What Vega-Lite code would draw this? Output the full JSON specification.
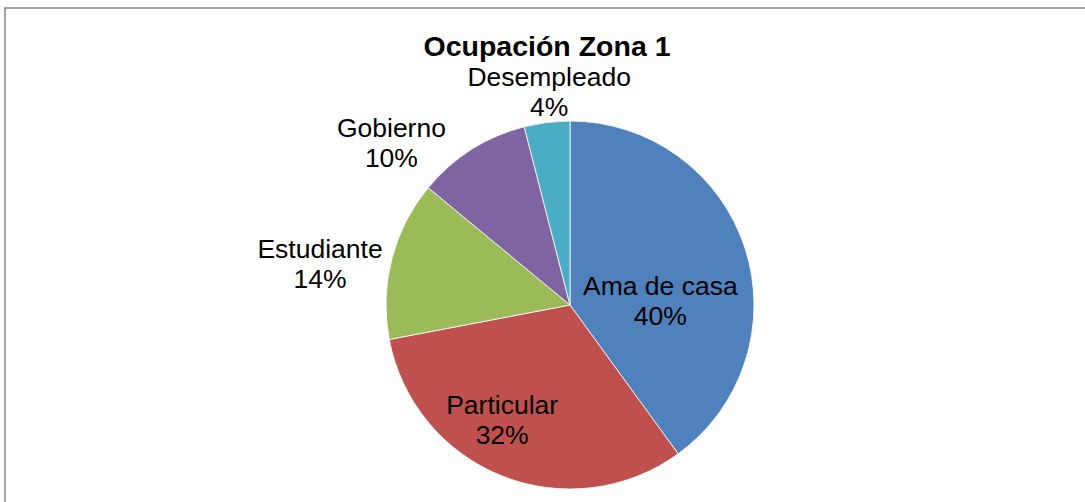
{
  "$schema": "https://vega.github.io/schema/vega-lite/v6.json",
  "autosize": {"type": "none"},
  "padding": {"left": 5, "top": 8, "right": 0, "bottom": 0},
  "width": 1130,
  "height": 594,
  "background": "white",
  "view": {"stroke": "#868686", "strokeWidth": 1.5, "fill": "white"},
  "config": {
    "view": {"stroke": "#868686", "strokeWidth": 1.5},
    "text": {"font": "Liberation Sans"}
  },
  "title": {
    "text": "Ocupación Zona 1",
    "font": "Liberation Sans",
    "fontSize": 28.5,
    "fontWeight": "bold",
    "color": "black",
    "anchor": "middle",
    "frame": "group",
    "offset": 0,
    "dx": -23,
    "dy": 53
  },
  "data": {
    "values": [
      {"ocupacion": "Ama de casa", "porcentaje": 40, "orden": 1},
      {"ocupacion": "Particular", "porcentaje": 32, "orden": 2},
      {"ocupacion": "Estudiante", "porcentaje": 14, "orden": 3},
      {"ocupacion": "Gobierno", "porcentaje": 10, "orden": 4},
      {"ocupacion": "Desempleado", "porcentaje": 4, "orden": 5}
    ]
  },
  "transform": [
    {"stack": "porcentaje", "groupby": [], "sort": [{"field": "orden", "order": "ascending"}], "as": ["p0", "p1"]},
    {"calculate": "(datum.p0 + datum.p1) / 2", "as": "pmid"},
    {"calculate": "datum.ocupacion + '\\n' + datum.porcentaje + '%'", "as": "etiqueta"}
  ],
  "layer": [
    {
      "mark": {"type": "arc", "outerRadius": 184, "stroke": "white", "strokeWidth": 0.8},
      "encoding": {
        "theta": {"field": "p0", "type": "quantitative", "scale": {"domain": [0, 100], "zero": true, "nice": false}},
        "theta2": {"field": "p1"},
        "color": {
          "field": "ocupacion",
          "type": "nominal",
          "scale": {
            "domain": ["Ama de casa", "Particular", "Estudiante", "Gobierno", "Desempleado"],
            "range": ["#4F81BD", "#C0504D", "#9BBB59", "#8064A2", "#4BACC6"]
          },
          "legend": null
        }
      }
    },
    {
      "transform": [{"filter": "datum.ocupacion === 'Ama de casa'"}],
      "mark": {"type": "text", "fontSize": 26.5, "lineHeight": 30, "lineBreak": "\n", "align": "center", "baseline": "middle", "color": "black", "dy": 11},
      "encoding": {
        "theta": {"field": "pmid", "type": "quantitative", "stack": null, "scale": {"domain": [0, 100], "nice": false}},
        "radius": {"value": 95},
        "text": {"field": "etiqueta", "type": "nominal"}
      }
    },
    {
      "transform": [{"filter": "datum.ocupacion === 'Particular'"}],
      "mark": {"type": "text", "fontSize": 26.5, "lineHeight": 30, "lineBreak": "\n", "align": "center", "baseline": "middle", "color": "black", "dx": -20, "dy": -20},
      "encoding": {
        "theta": {"field": "pmid", "type": "quantitative", "stack": null, "scale": {"domain": [0, 100], "nice": false}},
        "radius": {"value": 130},
        "text": {"field": "etiqueta", "type": "nominal"}
      }
    },
    {
      "transform": [{"filter": "datum.ocupacion === 'Estudiante'"}],
      "mark": {"type": "text", "fontSize": 26.5, "lineHeight": 30, "lineBreak": "\n", "align": "center", "baseline": "middle", "color": "black", "dx": -3, "dy": 8},
      "encoding": {
        "theta": {"field": "pmid", "type": "quantitative", "stack": null, "scale": {"domain": [0, 100], "nice": false}},
        "radius": {"value": 255},
        "text": {"field": "etiqueta", "type": "nominal"}
      }
    },
    {
      "transform": [{"filter": "datum.ocupacion === 'Gobierno'"}],
      "mark": {"type": "text", "fontSize": 26.5, "lineHeight": 30, "lineBreak": "\n", "align": "center", "baseline": "middle", "color": "black", "dx": -50, "dy": 27},
      "encoding": {
        "theta": {"field": "pmid", "type": "quantitative", "stack": null, "scale": {"domain": [0, 100], "nice": false}},
        "radius": {"value": 240},
        "text": {"field": "etiqueta", "type": "nominal"}
      }
    },
    {
      "transform": [{"filter": "datum.ocupacion === 'Desempleado'"}],
      "mark": {"type": "text", "fontSize": 26.5, "lineHeight": 30, "lineBreak": "\n", "align": "center", "baseline": "middle", "color": "black", "dx": 6, "dy": -15},
      "encoding": {
        "theta": {"field": "pmid", "type": "quantitative", "stack": null, "scale": {"domain": [0, 100], "nice": false}},
        "radius": {"value": 214},
        "text": {"field": "etiqueta", "type": "nominal"}
      }
    }
  ]
}
